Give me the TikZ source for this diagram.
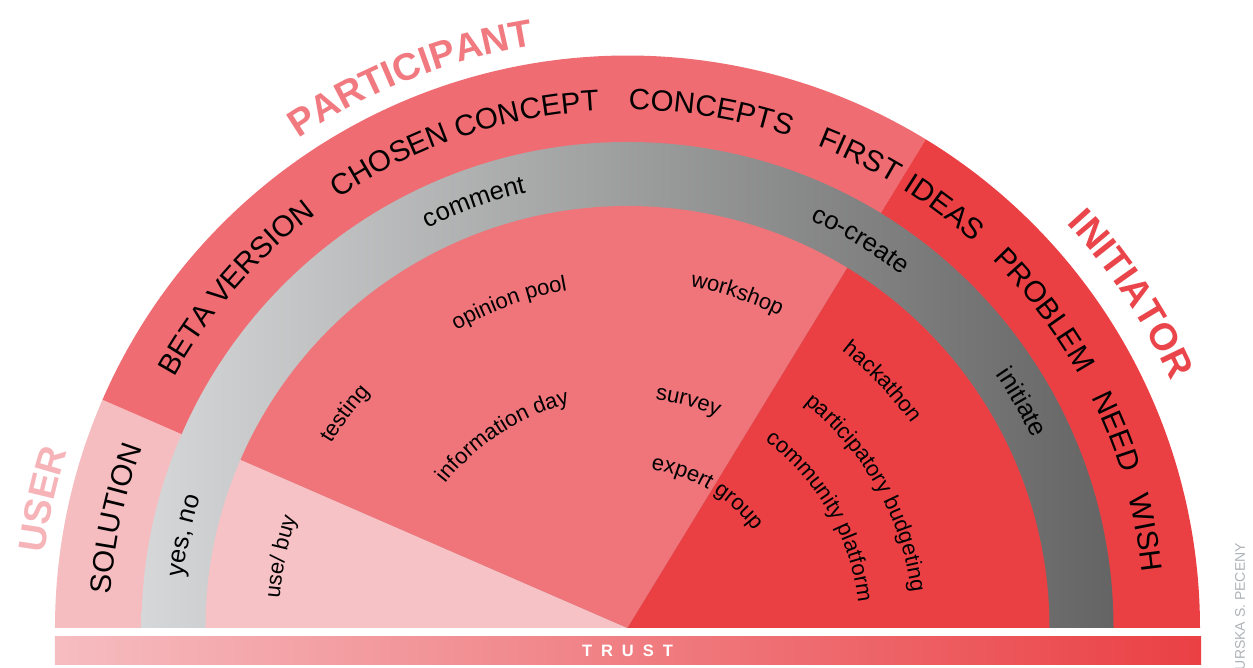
\documentclass[tikz,border=0pt]{standalone}
\usepackage{fontspec}
\setmainfont{Liberation Sans}
\usetikzlibrary{decorations.text}

\definecolor{userpink}{HTML}{F6BDC1}
\definecolor{partpink}{HTML}{EE6C72}
\definecolor{initred}{HTML}{EA4044}
\definecolor{greylight}{HTML}{D6D7D8}
\definecolor{greydark}{HTML}{646464}
\definecolor{userlabel}{HTML}{F6B4B9}
\definecolor{partlabel}{HTML}{F17A80}
\definecolor{initlabel}{HTML}{E9454A}
\definecolor{creditgrey}{HTML}{AEB2B6}

\def\stagefont{\fontsize{29.5pt}{30pt}\selectfont}
\def\modefont{\fontsize{25.5pt}{26pt}\selectfont}
\def\toolfont{\fontsize{22pt}{23pt}\selectfont}
\def\rolefont{\fontsize{38pt}{40pt}\selectfont\bfseries}

\def\sector[#1](#2:#3:#4){\fill[#1] (0,0) -- (#2:#4) arc (#2:#3:#4) -- cycle;}
\def\arclabel[#1](#2:#3)#4{\path[decorate,decoration={text along path,text align=center,text={|#1|#4}}] (#2+50:#3) arc (#2+50:#2-50:#3);}

\begin{document}
\begin{tikzpicture}
			%%%%% START %%%%%
			\useasboundingbox (-627.5pt,-40pt) rectangle (625.5pt,628pt);
			
			\sector[userpink](180:156.5:572.5pt)
			\sector[partpink](156.5:58.6:572.5pt)
			\sector[initred](58.6:0:572.5pt)
			
			\shade[left color=greylight, right color=greydark] (0,0) -- (0:486pt) arc (0:180:486pt) -- cycle;
			
			\sector[userpink!92!white](180:156.5:422pt)
			\sector[partpink!94!white](156.5:58.6:422pt)
			\sector[initred](58.6:0:422pt)
			
			\shade[left color=userpink, middle color=partpink, right color=initred] (-572.5pt,-9pt) rectangle (573.5pt,-37pt);
			\node[text=white, font=\fontsize{16.5pt}{17pt}\selectfont\bfseries] (trust) at (0pt,-23pt) {T\hspace{9pt}R\hspace{9pt}U\hspace{9pt}S\hspace{9pt}T};
			
			\arclabel[\stagefont](167.9:518pt){SOLUTION}
			\arclabel[\stagefont](139:518pt){BETA VERSION}
			\arclabel[\stagefont](108.5:518pt){CHOSEN CONCEPT}
			\arclabel[\stagefont](80.8:518pt){CONCEPTS}
			\arclabel[\stagefont](63.8:518pt){FIRST}
			\arclabel[\stagefont](53:518pt){IDEAS}
			\arclabel[\stagefont](37.3:518pt){PROBLEM}
			\arclabel[\stagefont](21.9:518pt){NEED}
			\arclabel[\stagefont](10.4:518pt){WISH}
			
			\arclabel[\modefont](168.2:447pt){yes, no}
			\arclabel[\modefont](109.8:447pt){comment}
			\arclabel[\modefont](59:447pt){co-create}
			\arclabel[\modefont](29.8:447pt){initiate}
			
			\arclabel[\toolfont](168.4:349pt){use/ buy}
			\arclabel[\toolfont](142.8:349pt){testing}
			\arclabel[\toolfont](110:343pt){opinion pool}
			\arclabel[\toolfont](71.8:347pt){workshop}
			\arclabel[\toolfont](44:350pt){hackathon}
			\arclabel[\toolfont](29.5:286pt){participatory budgeting}
			\arclabel[\toolfont](30:232pt){community platform}
			\arclabel[\toolfont](123:232pt){information day}
			\arclabel[\toolfont](75:230pt){survey}
			\arclabel[\toolfont](59.5:160pt){expert group}
			
			\arclabel[\rolefont\color{userlabel}](167.6:588pt){USER}
			\arclabel[\rolefont\color{partlabel}](111.5:590pt){PARTICIPANT}
			\arclabel[\rolefont\color{initlabel}](33.5:597pt){INITIATOR}
			
			\node[rotate=90, anchor=east, inner sep=0pt, text=creditgrey, font=\fontsize{14pt}{14pt}\selectfont] (credit) at (612.5pt,85pt) {URSKA S. PECENY};
			%%%%% END %%%%%
\end{tikzpicture}
\end{document}
